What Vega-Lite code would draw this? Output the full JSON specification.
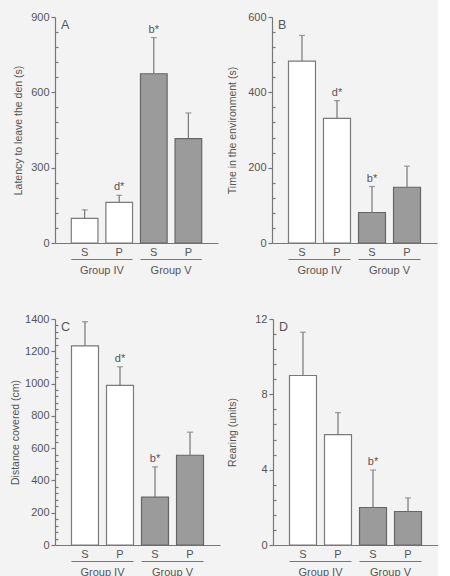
{
  "$schema": "https://vega.github.io/schema/vega-lite/v6.json",
  "background": "#f3f3f3",
  "padding": {"left": 10, "top": 11, "right": 0, "bottom": 0},
  "datasets": {
    "latency": [
      {"cond": "IV S", "grp": "Group IV", "v": 98, "err": 132, "sig": ""},
      {"cond": "IV P", "grp": "Group IV", "v": 162, "err": 190, "sig": "d*"},
      {"cond": "V S", "grp": "Group V", "v": 674, "err": 818, "sig": "b*"},
      {"cond": "V P", "grp": "Group V", "v": 416, "err": 518, "sig": ""}
    ],
    "time": [
      {"cond": "IV S", "grp": "Group IV", "v": 483, "err": 551, "sig": ""},
      {"cond": "IV P", "grp": "Group IV", "v": 331, "err": 378, "sig": "d*"},
      {"cond": "V S", "grp": "Group V", "v": 81, "err": 150, "sig": "b*"},
      {"cond": "V P", "grp": "Group V", "v": 148, "err": 204, "sig": ""}
    ],
    "distance": [
      {"cond": "IV S", "grp": "Group IV", "v": 1233, "err": 1383, "sig": ""},
      {"cond": "IV P", "grp": "Group IV", "v": 989, "err": 1104, "sig": "d*"},
      {"cond": "V S", "grp": "Group V", "v": 296, "err": 484, "sig": "b*"},
      {"cond": "V P", "grp": "Group V", "v": 556, "err": 699, "sig": ""}
    ],
    "rearing": [
      {"cond": "IV S", "grp": "Group IV", "v": 9.0, "err": 11.3, "sig": ""},
      {"cond": "IV P", "grp": "Group IV", "v": 5.86, "err": 7.03, "sig": ""},
      {"cond": "V S", "grp": "Group V", "v": 1.99, "err": 3.98, "sig": "b*"},
      {"cond": "V P", "grp": "Group V", "v": 1.78, "err": 2.5, "sig": ""}
    ],
    "groups": [{"grp": "Group IV"}, {"grp": "Group V"}]
  },
  "vconcat": [
    {
      "hconcat": [
        {
          "spacing": 2,
          "vconcat": [
            {
              "width": 163, "height": 226,
              "data": {"name": "latency"},
              "title": {"text": "A", "anchor": "start", "frame": "group", "orient": "top", "offset": -20, "dx": 6, "baseline": "top", "fontSize": 12.5, "fontWeight": "normal", "color": "#555"},
              "resolve": {"axis": {"y": "independent"}},
              "encoding": {
                "x": {"field": "cond", "type": "nominal", "sort": ["IV S", "IV P", "V S", "V P"],
                      "scale": {"paddingInner": 0.229, "paddingOuter": 0.471},
                      "axis": {"title": null, "labelExpr": "slice(datum.label, -1)", "ticks": false, "labelAngle": 0, "labelPadding": 3}}
              },
              "layer": [
                {
                  "mark": {"type": "bar", "strokeWidth": 1.2},
                  "encoding": {
                    "y": {"field": "v", "type": "quantitative", "scale": {"domain": [0, 900], "nice": false},
                          "axis": {"orient": "left", "values": [0, 300, 600, 900], "format": "d", "title": "Latency to leave the den (s)", "tickSize": 4, "titlePadding": 7}},
                    "color": {"field": "grp", "type": "nominal", "scale": {"range": ["#ffffff", "#9b9b9b"]}, "legend": null},
                    "stroke": {"field": "grp", "type": "nominal", "scale": {"range": ["#7a7a7a", "#666666"]}, "legend": null}
                  }
                },
                {
                  "mark": {"type": "rule", "color": "#777", "strokeWidth": 1.2},
                  "encoding": {
                    "y": {"field": "v", "type": "quantitative",
                          "axis": {"orient": "left", "values": [60, 120, 180, 240, 360, 420, 480, 540, 660, 720, 780, 840], "labels": false, "domain": false, "tickSize": -3, "title": null}},
                    "y2": {"field": "err"}
                  }
                },
                {
                  "mark": {"type": "tick", "orient": "horizontal", "size": 6, "thickness": 1.2, "color": "#777"},
                  "encoding": {"y": {"field": "err", "type": "quantitative", "axis": null}}
                },
                {
                  "transform": [{"filter": "datum.sig != ''"}],
                  "mark": {"type": "text", "baseline": "bottom", "dy": -3, "fontSize": 11, "fill": "#555"},
                  "encoding": {"y": {"field": "err", "type": "quantitative", "axis": null}, "text": {"field": "sig"}}
                }
              ]
            },
            {
              "width": 163, "height": 1,
              "data": {"name": "groups"},
              "mark": {"type": "bar", "color": "#777"},
              "encoding": {
                "x": {"field": "grp", "type": "nominal", "scale": {"paddingInner": 0.1145, "paddingOuter": 0.2355},
                      "axis": {"title": null, "domain": false, "ticks": false, "labelAngle": 0, "labelPadding": 4}}
              }
            }
          ]
        },
        {
          "spacing": 2,
          "vconcat": [
            {
              "width": 165, "height": 226,
              "data": {"name": "time"},
              "title": {"text": "B", "anchor": "start", "frame": "group", "orient": "top", "offset": -20, "dx": 6, "baseline": "top", "fontSize": 12.5, "fontWeight": "normal", "color": "#555"},
              "resolve": {"axis": {"y": "independent"}},
              "encoding": {
                "x": {"field": "cond", "type": "nominal", "sort": ["IV S", "IV P", "V S", "V P"],
                      "scale": {"paddingInner": 0.229, "paddingOuter": 0.471},
                      "axis": {"title": null, "labelExpr": "slice(datum.label, -1)", "ticks": false, "labelAngle": 0, "labelPadding": 3}}
              },
              "layer": [
                {
                  "mark": {"type": "bar", "strokeWidth": 1.2},
                  "encoding": {
                    "y": {"field": "v", "type": "quantitative", "scale": {"domain": [0, 600], "nice": false},
                          "axis": {"orient": "left", "values": [0, 200, 400, 600], "format": "d", "title": "Time in the environment (s)", "tickSize": 4, "titlePadding": 10}},
                    "color": {"field": "grp", "type": "nominal", "scale": {"range": ["#ffffff", "#9b9b9b"]}, "legend": null},
                    "stroke": {"field": "grp", "type": "nominal", "scale": {"range": ["#7a7a7a", "#666666"]}, "legend": null}
                  }
                },
                {
                  "mark": {"type": "rule", "color": "#777", "strokeWidth": 1.2},
                  "encoding": {
                    "y": {"field": "v", "type": "quantitative",
                          "axis": {"orient": "left", "values": [40, 80, 120, 160, 240, 280, 320, 360, 440, 480, 520, 560], "labels": false, "domain": false, "tickSize": -3, "title": null}},
                    "y2": {"field": "err"}
                  }
                },
                {
                  "mark": {"type": "tick", "orient": "horizontal", "size": 6, "thickness": 1.2, "color": "#777"},
                  "encoding": {"y": {"field": "err", "type": "quantitative", "axis": null}}
                },
                {
                  "transform": [{"filter": "datum.sig != ''"}],
                  "mark": {"type": "text", "baseline": "bottom", "dy": -3, "fontSize": 11, "fill": "#555"},
                  "encoding": {"y": {"field": "err", "type": "quantitative", "axis": null}, "text": {"field": "sig"}}
                }
              ]
            },
            {
              "width": 165, "height": 1,
              "data": {"name": "groups"},
              "mark": {"type": "bar", "color": "#777"},
              "encoding": {
                "x": {"field": "grp", "type": "nominal", "scale": {"paddingInner": 0.1145, "paddingOuter": 0.2355},
                      "axis": {"title": null, "domain": false, "ticks": false, "labelAngle": 0, "labelPadding": 4}}
              }
            }
          ]
        }
      ],
      "spacing": 9
    },
    {
      "hconcat": [
        {
          "spacing": 2,
          "vconcat": [
            {
              "width": 165, "height": 226,
              "data": {"name": "distance"},
              "title": {"text": "C", "anchor": "start", "frame": "group", "orient": "top", "offset": -20, "dx": 6, "baseline": "top", "fontSize": 12.5, "fontWeight": "normal", "color": "#555"},
              "resolve": {"axis": {"y": "independent"}},
              "encoding": {
                "x": {"field": "cond", "type": "nominal", "sort": ["IV S", "IV P", "V S", "V P"],
                      "scale": {"paddingInner": 0.229, "paddingOuter": 0.471},
                      "axis": {"title": null, "labelExpr": "slice(datum.label, -1)", "ticks": false, "labelAngle": 0, "labelPadding": 3}}
              },
              "layer": [
                {
                  "mark": {"type": "bar", "strokeWidth": 1.2},
                  "encoding": {
                    "y": {"field": "v", "type": "quantitative", "scale": {"domain": [0, 1400], "nice": false},
                          "axis": {"orient": "left", "values": [0, 200, 400, 600, 800, 1000, 1200, 1400], "format": "d", "title": "Distance covered (cm)", "tickSize": 4, "titlePadding": 4}},
                    "color": {"field": "grp", "type": "nominal", "scale": {"range": ["#ffffff", "#9b9b9b"]}, "legend": null},
                    "stroke": {"field": "grp", "type": "nominal", "scale": {"range": ["#7a7a7a", "#666666"]}, "legend": null}
                  }
                },
                {
                  "mark": {"type": "rule", "color": "#777", "strokeWidth": 1.2},
                  "encoding": {
                    "y": {"field": "v", "type": "quantitative",
                          "axis": {"orient": "left", "values": [40, 80, 120, 160, 240, 280, 320, 360, 440, 480, 520, 560, 640, 680, 720, 760, 840, 880, 920, 960, 1040, 1080, 1120, 1160, 1240, 1280, 1320, 1360], "labels": false, "domain": false, "tickSize": -3, "title": null}},
                    "y2": {"field": "err"}
                  }
                },
                {
                  "mark": {"type": "tick", "orient": "horizontal", "size": 6, "thickness": 1.2, "color": "#777"},
                  "encoding": {"y": {"field": "err", "type": "quantitative", "axis": null}}
                },
                {
                  "transform": [{"filter": "datum.sig != ''"}],
                  "mark": {"type": "text", "baseline": "bottom", "dy": -3, "fontSize": 11, "fill": "#555"},
                  "encoding": {"y": {"field": "err", "type": "quantitative", "axis": null}, "text": {"field": "sig"}}
                }
              ]
            },
            {
              "width": 165, "height": 1,
              "data": {"name": "groups"},
              "mark": {"type": "bar", "color": "#777"},
              "encoding": {
                "x": {"field": "grp", "type": "nominal", "scale": {"paddingInner": 0.1145, "paddingOuter": 0.2355},
                      "axis": {"title": null, "domain": false, "ticks": false, "labelAngle": 0, "labelPadding": 4}}
              }
            }
          ]
        },
        {
          "spacing": 2,
          "vconcat": [
            {
              "width": 165, "height": 226,
              "data": {"name": "rearing"},
              "title": {"text": "D", "anchor": "start", "frame": "group", "orient": "top", "offset": -20, "dx": 6, "baseline": "top", "fontSize": 12.5, "fontWeight": "normal", "color": "#555"},
              "resolve": {"axis": {"y": "independent"}},
              "encoding": {
                "x": {"field": "cond", "type": "nominal", "sort": ["IV S", "IV P", "V S", "V P"],
                      "scale": {"paddingInner": 0.229, "paddingOuter": 0.471},
                      "axis": {"title": null, "labelExpr": "slice(datum.label, -1)", "ticks": false, "labelAngle": 0, "labelPadding": 3}}
              },
              "layer": [
                {
                  "mark": {"type": "bar", "strokeWidth": 1.2},
                  "encoding": {
                    "y": {"field": "v", "type": "quantitative", "scale": {"domain": [0, 12], "nice": false},
                          "axis": {"orient": "left", "values": [0, 4, 8, 12], "format": "d", "title": "Rearing (units)", "tickSize": 4, "titlePadding": 17}},
                    "color": {"field": "grp", "type": "nominal", "scale": {"range": ["#ffffff", "#9b9b9b"]}, "legend": null},
                    "stroke": {"field": "grp", "type": "nominal", "scale": {"range": ["#7a7a7a", "#666666"]}, "legend": null}
                  }
                },
                {
                  "mark": {"type": "rule", "color": "#777", "strokeWidth": 1.2},
                  "encoding": {
                    "y": {"field": "v", "type": "quantitative",
                          "axis": {"orient": "left", "values": [0.8, 1.6, 2.4, 3.2, 4.8, 5.6, 6.4, 7.2, 8.8, 9.6, 10.4, 11.2], "labels": false, "domain": false, "tickSize": -3, "title": null}},
                    "y2": {"field": "err"}
                  }
                },
                {
                  "mark": {"type": "tick", "orient": "horizontal", "size": 6, "thickness": 1.2, "color": "#777"},
                  "encoding": {"y": {"field": "err", "type": "quantitative", "axis": null}}
                },
                {
                  "transform": [{"filter": "datum.sig != ''"}],
                  "mark": {"type": "text", "baseline": "bottom", "dy": -3, "fontSize": 11, "fill": "#555"},
                  "encoding": {"y": {"field": "err", "type": "quantitative", "axis": null}, "text": {"field": "sig"}}
                }
              ]
            },
            {
              "width": 165, "height": 1,
              "data": {"name": "groups"},
              "mark": {"type": "bar", "color": "#777"},
              "encoding": {
                "x": {"field": "grp", "type": "nominal", "scale": {"paddingInner": 0.1145, "paddingOuter": 0.2355},
                      "axis": {"title": null, "domain": false, "ticks": false, "labelAngle": 0, "labelPadding": 4}}
              }
            }
          ]
        }
      ],
      "spacing": 7
    }
  ],
  "spacing": 38,
  "config": {
    "view": {"stroke": null},
    "font": "Liberation Sans",
    "axis": {
      "grid": false,
      "domainColor": "#777",
      "domainWidth": 1.2,
      "tickColor": "#777",
      "tickWidth": 1.2,
      "labelColor": "#555",
      "titleColor": "#555",
      "labelFontSize": 11,
      "titleFontSize": 10.5,
      "titleFontWeight": "normal"
    }
  }
}
